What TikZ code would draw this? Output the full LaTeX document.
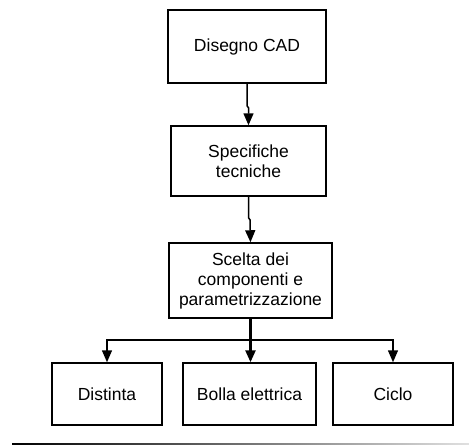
\documentclass[tikz,border=0pt]{standalone}
\usepackage{fontspec}
\setmainfont{Liberation Sans}
\usetikzlibrary{arrows.meta}
\begin{document}
\begin{tikzpicture}[x=1pt,y=-1pt,
  box/.style={draw=black,line width=1.5pt,fill=white,inner sep=0pt,
    align=center,font=\fontsize{17.5}{20}\selectfont},
  arr/.style={draw=black,line width=1.5pt,
    -{Triangle[width=10pt,length=12pt]}},
  trunk/.style={arr,line width=2.5pt}]
\useasboundingbox (0,0) rectangle (469,445);
% process boxes
\node[box,minimum width=158pt,minimum height=73pt] (cad) at (247,46.5) {Disegno CAD};
\node[box,minimum width=155pt,minimum height=70pt] (spec) at (248.5,161) {Specifiche\\tecniche};
\node[box,minimum width=163pt,minimum height=75pt] (scelta) at (250.5,280.5)
  {Scelta dei\\componenti e\\parametrizzazione};
\node[box,minimum width=110pt,minimum height=62pt] (distinta) at (107,394) {Distinta};
\node[box,minimum width=133pt,minimum height=62pt] (bolla) at (249.5,394) {Bolla elettrica};
\node[box,minimum width=120pt,minimum height=62pt] (ciclo) at (393,394) {Ciclo};
% connectors
\draw[arr] (cad.south) -- ++(0,22) -- ++(1.5,2) -- (spec.north);
\draw[arr] (spec.south) -- ++(0,21) -- ++(1.5,2) -- (scelta.north);
\coordinate (bus) at (250.5,340);
\draw[arr] (bus) -| (distinta.north);
\draw[arr] (bus) -| (ciclo.north);
\draw[trunk] (scelta.south) -- (scelta.south |- bolla.north);
% footer rule
\shade[left color=black,right color=black!12] (12,443.5) rectangle (469,444.8);
\end{tikzpicture}
\end{document}
